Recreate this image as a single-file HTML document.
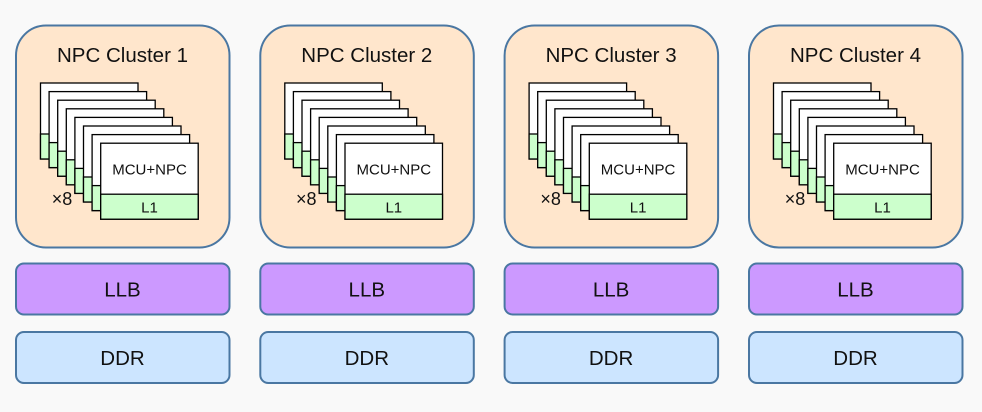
<!DOCTYPE html>
<html><head><meta charset="utf-8"><style>
html,body{margin:0;padding:0;background:#f9f9f9;}
svg{display:block;font-family:"Liberation Sans",sans-serif;}
.t{font-size:20.5px}.m{font-size:15px}.l{font-size:15px}.x{font-size:18px}.b{font-size:20.5px}
</style></head><body>
<svg width="982" height="412" viewBox="0 0 982 412" xmlns="http://www.w3.org/2000/svg">
<rect width="982" height="412" fill="#f9f9f9"/>
<g>
<rect x="16" y="25.5" width="213.5" height="222" rx="30" fill="#ffe6cc" stroke="#4a77a2" stroke-width="2"/>
<text class="t" x="122.5" y="62" text-anchor="middle" fill="#111">NPC Cluster 1</text>
<g stroke="#000" stroke-width="1.3">
<rect x="40.5" y="83" width="97.5" height="76" fill="#fff"/><rect x="40.5" y="134" width="97.5" height="25" fill="#ccffcc"/>
<rect x="49.1" y="91.6" width="97.5" height="76" fill="#fff"/><rect x="49.1" y="142.6" width="97.5" height="25" fill="#ccffcc"/>
<rect x="57.7" y="100.2" width="97.5" height="76" fill="#fff"/><rect x="57.7" y="151.2" width="97.5" height="25" fill="#ccffcc"/>
<rect x="66.3" y="108.8" width="97.5" height="76" fill="#fff"/><rect x="66.3" y="159.8" width="97.5" height="25" fill="#ccffcc"/>
<rect x="74.9" y="117.4" width="97.5" height="76" fill="#fff"/><rect x="74.9" y="168.4" width="97.5" height="25" fill="#ccffcc"/>
<rect x="83.5" y="126" width="97.5" height="76" fill="#fff"/><rect x="83.5" y="177" width="97.5" height="25" fill="#ccffcc"/>
<rect x="92.1" y="134.6" width="97.5" height="76" fill="#fff"/><rect x="92.1" y="185.6" width="97.5" height="25" fill="#ccffcc"/>
<rect x="100.7" y="143.2" width="97.5" height="76" fill="#fff"/><rect x="100.7" y="194.2" width="97.5" height="25" fill="#ccffcc"/>
</g>
<text class="m" x="149.5" y="174.5" text-anchor="middle" fill="#111">MCU+NPC</text>
<text class="l" x="149.5" y="212.5" text-anchor="middle" fill="#111">L1</text>
<text class="x" x="62" y="205" text-anchor="middle" fill="#111">×8</text>
<rect x="16" y="263.5" width="213.5" height="51" rx="8" fill="#cc99ff" stroke="#4a77a2" stroke-width="2"/>
<text class="b" x="122.5" y="296.5" text-anchor="middle" fill="#111">LLB</text>
<rect x="16" y="332" width="213.5" height="51" rx="8" fill="#cce5ff" stroke="#4a77a2" stroke-width="2"/>
<text class="b" x="122.5" y="365" text-anchor="middle" fill="#111">DDR</text>
</g>
<g transform="translate(244.3,0)">
<rect x="16" y="25.5" width="213.5" height="222" rx="30" fill="#ffe6cc" stroke="#4a77a2" stroke-width="2"/>
<text class="t" x="122.5" y="62" text-anchor="middle" fill="#111">NPC Cluster 2</text>
<g stroke="#000" stroke-width="1.3">
<rect x="40.5" y="83" width="97.5" height="76" fill="#fff"/><rect x="40.5" y="134" width="97.5" height="25" fill="#ccffcc"/>
<rect x="49.1" y="91.6" width="97.5" height="76" fill="#fff"/><rect x="49.1" y="142.6" width="97.5" height="25" fill="#ccffcc"/>
<rect x="57.7" y="100.2" width="97.5" height="76" fill="#fff"/><rect x="57.7" y="151.2" width="97.5" height="25" fill="#ccffcc"/>
<rect x="66.3" y="108.8" width="97.5" height="76" fill="#fff"/><rect x="66.3" y="159.8" width="97.5" height="25" fill="#ccffcc"/>
<rect x="74.9" y="117.4" width="97.5" height="76" fill="#fff"/><rect x="74.9" y="168.4" width="97.5" height="25" fill="#ccffcc"/>
<rect x="83.5" y="126" width="97.5" height="76" fill="#fff"/><rect x="83.5" y="177" width="97.5" height="25" fill="#ccffcc"/>
<rect x="92.1" y="134.6" width="97.5" height="76" fill="#fff"/><rect x="92.1" y="185.6" width="97.5" height="25" fill="#ccffcc"/>
<rect x="100.7" y="143.2" width="97.5" height="76" fill="#fff"/><rect x="100.7" y="194.2" width="97.5" height="25" fill="#ccffcc"/>
</g>
<text class="m" x="149.5" y="174.5" text-anchor="middle" fill="#111">MCU+NPC</text>
<text class="l" x="149.5" y="212.5" text-anchor="middle" fill="#111">L1</text>
<text class="x" x="62" y="205" text-anchor="middle" fill="#111">×8</text>
<rect x="16" y="263.5" width="213.5" height="51" rx="8" fill="#cc99ff" stroke="#4a77a2" stroke-width="2"/>
<text class="b" x="122.5" y="296.5" text-anchor="middle" fill="#111">LLB</text>
<rect x="16" y="332" width="213.5" height="51" rx="8" fill="#cce5ff" stroke="#4a77a2" stroke-width="2"/>
<text class="b" x="122.5" y="365" text-anchor="middle" fill="#111">DDR</text>
</g>
<g transform="translate(488.6,0)">
<rect x="16" y="25.5" width="213.5" height="222" rx="30" fill="#ffe6cc" stroke="#4a77a2" stroke-width="2"/>
<text class="t" x="122.5" y="62" text-anchor="middle" fill="#111">NPC Cluster 3</text>
<g stroke="#000" stroke-width="1.3">
<rect x="40.5" y="83" width="97.5" height="76" fill="#fff"/><rect x="40.5" y="134" width="97.5" height="25" fill="#ccffcc"/>
<rect x="49.1" y="91.6" width="97.5" height="76" fill="#fff"/><rect x="49.1" y="142.6" width="97.5" height="25" fill="#ccffcc"/>
<rect x="57.7" y="100.2" width="97.5" height="76" fill="#fff"/><rect x="57.7" y="151.2" width="97.5" height="25" fill="#ccffcc"/>
<rect x="66.3" y="108.8" width="97.5" height="76" fill="#fff"/><rect x="66.3" y="159.8" width="97.5" height="25" fill="#ccffcc"/>
<rect x="74.9" y="117.4" width="97.5" height="76" fill="#fff"/><rect x="74.9" y="168.4" width="97.5" height="25" fill="#ccffcc"/>
<rect x="83.5" y="126" width="97.5" height="76" fill="#fff"/><rect x="83.5" y="177" width="97.5" height="25" fill="#ccffcc"/>
<rect x="92.1" y="134.6" width="97.5" height="76" fill="#fff"/><rect x="92.1" y="185.6" width="97.5" height="25" fill="#ccffcc"/>
<rect x="100.7" y="143.2" width="97.5" height="76" fill="#fff"/><rect x="100.7" y="194.2" width="97.5" height="25" fill="#ccffcc"/>
</g>
<text class="m" x="149.5" y="174.5" text-anchor="middle" fill="#111">MCU+NPC</text>
<text class="l" x="149.5" y="212.5" text-anchor="middle" fill="#111">L1</text>
<text class="x" x="62" y="205" text-anchor="middle" fill="#111">×8</text>
<rect x="16" y="263.5" width="213.5" height="51" rx="8" fill="#cc99ff" stroke="#4a77a2" stroke-width="2"/>
<text class="b" x="122.5" y="296.5" text-anchor="middle" fill="#111">LLB</text>
<rect x="16" y="332" width="213.5" height="51" rx="8" fill="#cce5ff" stroke="#4a77a2" stroke-width="2"/>
<text class="b" x="122.5" y="365" text-anchor="middle" fill="#111">DDR</text>
</g>
<g transform="translate(733,0)">
<rect x="16" y="25.5" width="213.5" height="222" rx="30" fill="#ffe6cc" stroke="#4a77a2" stroke-width="2"/>
<text class="t" x="122.5" y="62" text-anchor="middle" fill="#111">NPC Cluster 4</text>
<g stroke="#000" stroke-width="1.3">
<rect x="40.5" y="83" width="97.5" height="76" fill="#fff"/><rect x="40.5" y="134" width="97.5" height="25" fill="#ccffcc"/>
<rect x="49.1" y="91.6" width="97.5" height="76" fill="#fff"/><rect x="49.1" y="142.6" width="97.5" height="25" fill="#ccffcc"/>
<rect x="57.7" y="100.2" width="97.5" height="76" fill="#fff"/><rect x="57.7" y="151.2" width="97.5" height="25" fill="#ccffcc"/>
<rect x="66.3" y="108.8" width="97.5" height="76" fill="#fff"/><rect x="66.3" y="159.8" width="97.5" height="25" fill="#ccffcc"/>
<rect x="74.9" y="117.4" width="97.5" height="76" fill="#fff"/><rect x="74.9" y="168.4" width="97.5" height="25" fill="#ccffcc"/>
<rect x="83.5" y="126" width="97.5" height="76" fill="#fff"/><rect x="83.5" y="177" width="97.5" height="25" fill="#ccffcc"/>
<rect x="92.1" y="134.6" width="97.5" height="76" fill="#fff"/><rect x="92.1" y="185.6" width="97.5" height="25" fill="#ccffcc"/>
<rect x="100.7" y="143.2" width="97.5" height="76" fill="#fff"/><rect x="100.7" y="194.2" width="97.5" height="25" fill="#ccffcc"/>
</g>
<text class="m" x="149.5" y="174.5" text-anchor="middle" fill="#111">MCU+NPC</text>
<text class="l" x="149.5" y="212.5" text-anchor="middle" fill="#111">L1</text>
<text class="x" x="62" y="205" text-anchor="middle" fill="#111">×8</text>
<rect x="16" y="263.5" width="213.5" height="51" rx="8" fill="#cc99ff" stroke="#4a77a2" stroke-width="2"/>
<text class="b" x="122.5" y="296.5" text-anchor="middle" fill="#111">LLB</text>
<rect x="16" y="332" width="213.5" height="51" rx="8" fill="#cce5ff" stroke="#4a77a2" stroke-width="2"/>
<text class="b" x="122.5" y="365" text-anchor="middle" fill="#111">DDR</text>
</g>
</svg>
</body></html>
